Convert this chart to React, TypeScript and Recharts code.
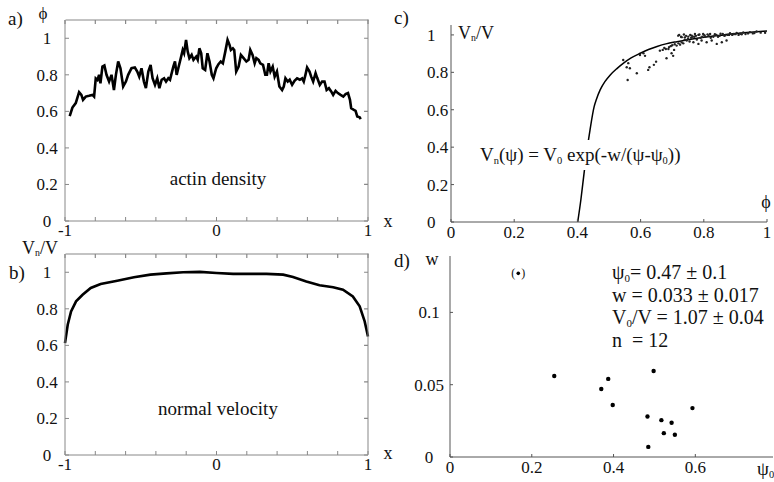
import React from "react";
import {
  LineChart,
  Line,
  XAxis,
  YAxis,
  ComposedChart,
  Scatter,
  ScatterChart,
} from "recharts";

const FONT = '"Liberation Serif", "Times New Roman", Tinos, "DejaVu Serif", serif';

// a) actin density along the edge
const actinX = [
  -0.969, -0.951, -0.929, -0.907, -0.892, -0.881, -0.863, -0.841, -0.819, -0.808,
  -0.797, -0.786, -0.775, -0.766, -0.753, -0.74, -0.726, -0.709, -0.693, -0.677,
  -0.664, -0.649, -0.634, -0.616, -0.598, -0.583, -0.561, -0.539, -0.523, -0.51,
  -0.495, -0.479, -0.466, -0.45, -0.435, -0.422, -0.406, -0.391, -0.377, -0.362,
  -0.346, -0.333, -0.318, -0.307, -0.285, -0.274, -0.263, -0.247, -0.236, -0.223,
  -0.214, -0.201, -0.19, -0.179, -0.164, -0.152, -0.134, -0.124, -0.113, -0.101,
  -0.091, -0.075, -0.06, -0.046, -0.031, -0.02, -0.002, 0.013, 0.028, 0.042,
  0.058, 0.073, 0.086, 0.095, 0.108, 0.117, 0.13, 0.146, 0.161, 0.179,
  0.197, 0.212, 0.223, 0.238, 0.252, 0.263, 0.278, 0.289, 0.307, 0.322,
  0.333, 0.344, 0.356, 0.371, 0.384, 0.399, 0.415, 0.433, 0.444, 0.455,
  0.47, 0.483, 0.499, 0.515, 0.532, 0.55, 0.565, 0.576, 0.587, 0.598,
  0.614, 0.625, 0.638, 0.654, 0.664, 0.682, 0.697, 0.713, 0.727, 0.742,
  0.757, 0.77, 0.786, 0.801, 0.819, 0.837, 0.852, 0.868, 0.881, 0.889,
  0.907, 0.918, 0.929, 0.945, 0.952,
];
const actinY = [
  0.574, 0.621, 0.645, 0.705, 0.69, 0.663, 0.681, 0.685, 0.69, 0.681,
  0.78, 0.772, 0.8, 0.754, 0.845, 0.851, 0.8, 0.763, 0.8, 0.717,
  0.8, 0.873, 0.836, 0.736, 0.763, 0.8, 0.836, 0.84, 0.818, 0.79,
  0.836, 0.763, 0.727, 0.818, 0.854, 0.781, 0.745, 0.781, 0.727, 0.773,
  0.781, 0.763, 0.781, 0.773, 0.845, 0.873, 0.8, 0.854, 0.891, 0.936,
  0.918, 0.991, 0.927, 0.891, 0.909, 0.882, 0.9, 0.882, 0.945, 0.918,
  0.836, 0.827, 0.918, 0.873, 0.8, 0.781, 0.836, 0.858, 0.873, 0.863,
  0.927, 0.991, 0.964, 0.936, 0.945, 0.936, 0.818, 0.845, 0.909, 0.891,
  0.873, 0.882, 0.936, 0.909, 0.863, 0.891, 0.882, 0.863, 0.854, 0.8,
  0.8, 0.863, 0.818, 0.845, 0.79, 0.818, 0.736, 0.717, 0.736, 0.781,
  0.763, 0.773, 0.745, 0.767, 0.781, 0.773, 0.781, 0.763, 0.8, 0.84,
  0.818, 0.79, 0.763, 0.809, 0.785, 0.745, 0.763, 0.763, 0.717, 0.727,
  0.709, 0.69, 0.712, 0.7, 0.69, 0.681, 0.694, 0.7, 0.663, 0.617,
  0.608, 0.603, 0.572, 0.567, 0.557,
];

// b) normal velocity
const velX = [
  -1, -0.982, -0.96, -0.927, -0.884, -0.83, -0.765, -0.655, -0.545, -0.436,
  -0.33, -0.22, -0.11, 0, 0.11, 0.22, 0.33, 0.44, 0.505, 0.593,
  0.68, 0.77, 0.835, 0.9, 0.945, 0.978, 1,
];
const velY = [
  0.612, 0.713, 0.786, 0.841, 0.877, 0.914, 0.936, 0.954, 0.973, 0.987,
  0.994, 1.0, 1.002, 0.996, 0.991, 0.991, 0.991, 0.987, 0.974, 0.95,
  0.929, 0.918, 0.905, 0.868, 0.814, 0.731, 0.649,
];

// c) normal velocity vs actin density
const cloudX = [
  0.545, 0.556, 0.561, 0.559, 0.566, 0.588, 0.598, 0.609, 0.614, 0.624,
  0.628, 0.642, 0.649, 0.661, 0.67, 0.675, 0.68, 0.682, 0.688, 0.69,
  0.695, 0.698, 0.7, 0.703, 0.706, 0.708, 0.714, 0.719, 0.72, 0.725,
  0.73, 0.73, 0.735, 0.74, 0.74, 0.746, 0.75, 0.751, 0.755, 0.76,
  0.762, 0.767, 0.77, 0.772, 0.778, 0.783, 0.783, 0.79, 0.793, 0.798,
  0.805, 0.809, 0.815, 0.82, 0.825, 0.83, 0.84, 0.841, 0.85, 0.857,
  0.86, 0.868, 0.872, 0.876, 0.883, 0.89, 0.895, 0.904, 0.91, 0.915,
  0.925, 0.932, 0.946, 0.955, 0.967, 0.994, 0.722, 0.728, 0.737, 0.744,
  0.757, 0.765, 0.775, 0.786, 0.795, 0.802, 0.812, 0.822, 0.835, 0.845,
  0.853, 0.865, 0.88, 0.9, 0.92, 0.94, 0.96, 0.98,
];
const cloudY = [
  0.866, 0.827, 0.849, 0.759, 0.822, 0.795, 0.893, 0.902, 0.888, 0.813,
  0.827, 0.84, 0.857, 0.916, 0.92, 0.93, 0.925, 0.875, 0.925, 0.935,
  0.94, 0.902, 0.945, 0.888, 0.92, 0.95, 0.943, 0.996, 0.955, 0.948,
  0.988, 0.96, 0.955, 0.987, 0.975, 0.97, 0.98, 0.991, 0.965, 0.985,
  0.996, 0.961, 0.99, 1.005, 0.975, 1.0, 0.952, 0.985, 0.97, 1.005,
  0.99, 0.961, 0.995, 1.005, 0.97, 0.99, 1.0, 0.952, 0.995, 0.961,
  1.005, 0.998, 0.97, 1.0, 1.009, 1.0, 1.005, 1.011, 1.0, 1.006,
  1.013, 1.005, 1.014, 1.008, 1.018, 1.011, 1.0, 0.99, 1.002, 0.995,
  1.0, 0.99, 0.995, 1.002, 0.99, 0.998, 1.003, 0.985, 1.004, 0.99,
  1.006, 0.995, 1.0, 1.004, 1.003, 1.008, 1.01, 1.012,
];
const fitX = [
  0.401, 0.411, 0.421, 0.43, 0.44, 0.453, 0.46, 0.472, 0.487, 0.504,
  0.525, 0.546, 0.57, 0.599, 0.625, 0.652, 0.68, 0.715, 0.745, 0.778,
  0.82, 0.863, 0.905, 0.947, 1.0,
];
const fitY = [
  0, 0.119, 0.26, 0.38, 0.493, 0.617, 0.655, 0.706, 0.75, 0.786,
  0.82, 0.849, 0.877, 0.902, 0.922, 0.938, 0.952, 0.964, 0.973, 0.982,
  0.992, 1.0, 1.008, 1.014, 1.021,
];

// d) fitted parameters per cell
const psiX = [0.255, 0.37, 0.387, 0.398, 0.483, 0.485, 0.498, 0.517, 0.523, 0.542, 0.55, 0.593];
const wY = [0.056, 0.047, 0.054, 0.036, 0.028, 0.007, 0.0595, 0.0255, 0.0165, 0.0237, 0.0154, 0.0338];
const outlierX = [0.167];
const outlierY = [0.127];

const abXTicks = [-1, -0.8, -0.6, -0.4, -0.2, 0, 0.2, 0.4, 0.6, 0.8, 1];
const unitTicks = [0, 0.2, 0.4, 0.6, 0.8, 1];
const dXTicks = [0, 0.2, 0.4, 0.6];
const dYTicks = [0, 0.05, 0.1];

const zip = (xs: number[], ys: number[]) => xs.map((x, i) => ({ x, y: ys[i] }));

const tickStyle = { fill: "#111", fontSize: 17, fontFamily: FONT };
const frame = "#888";
const axisDark = "#555";

const fmtY = (v: number) => (v === 0 ? "0" : v === 1 ? "1" : String(v));
const fmtEnds = (v: number) => (v === -1 ? "-1" : v === 0 ? "0" : v === 1 ? "1" : "");

// y tick labels sit in a column (chart-local x), not flush against the axis
const yTickAt = (cx: number, anchor: "middle" | "start") => (p: any) =>
  (
    <text
      x={cx}
      y={p.y}
      dy="0.35em"
      textAnchor={anchor}
      fontSize={17}
      fontFamily={FONT}
      fill="#111"
    >
      {fmtY(p.payload.value)}
    </text>
  );

function Sub({ children }: { children: React.ReactNode }) {
  return (
    <span style={{ fontSize: "0.55em", position: "relative", top: "0.25em" }}>{children}</span>
  );
}

function Label({
  x,
  y,
  size = 18,
  children,
  center = true,
}: {
  x: number;
  y: number;
  size?: number;
  children: React.ReactNode;
  center?: boolean;
}) {
  return (
    <div
      style={{
        position: "absolute",
        left: x,
        top: y,
        transform: center ? "translate(-50%, -50%)" : "translate(0, -50%)",
        fontFamily: FONT,
        fontSize: size,
        lineHeight: 1,
        whiteSpace: "nowrap",
        color: "#111",
      }}
    >
      {children}
    </div>
  );
}

const Y_TOP = 1.1;
// inward ticks on the top and right sides of the box
const boxTicks = [
  ...abXTicks.flatMap((t) => [
    { x: t, y: Y_TOP },
    { x: t, y: Y_TOP - 0.022 },
    { x: t, y: null },
  ]),
  ...unitTicks.flatMap((t) => [
    { x: 1, y: t },
    { x: 0.974, y: t },
    { x: 1, y: null },
  ]),
];

function FramedProfile({
  data,
  height,
  top,
  marginTop,
  xAxisHeight,
}: {
  data: { x: number; y: number }[];
  height: number;
  top: number;
  marginTop: number;
  xAxisHeight: number;
}) {
  const plotH = height - marginTop - xAxisHeight;
  return (
    <div style={{ position: "absolute", left: 0, top }}>
      <LineChart width={390} height={height} margin={{ top: marginTop, right: 22, bottom: 0, left: 0 }}>
        <XAxis
          dataKey="x"
          type="number"
          domain={[-1, 1]}
          ticks={abXTicks}
          tickFormatter={fmtEnds}
          height={xAxisHeight}
          tick={tickStyle}
          tickSize={-4}
          tickMargin={7}
          stroke={frame}
          interval={0}
        />
        <YAxis
          type="number"
          domain={[0, Y_TOP]}
          ticks={unitTicks}
          width={65}
          tick={yTickAt(47, "middle")}
          tickSize={-4}
          stroke={frame}
          interval={0}
        />
        <Line
          data={boxTicks}
          dataKey="y"
          type="linear"
          stroke={frame}
          strokeWidth={1.2}
          dot={false}
          activeDot={false}
          connectNulls={false}
          isAnimationActive={false}
        />
        <Line
          data={data}
          dataKey="y"
          type="linear"
          stroke="#000"
          strokeWidth={2.6}
          dot={false}
          isAnimationActive={false}
        />
      </LineChart>
      {/* top and right sides of the box */}
      <div
        style={{
          position: "absolute",
          left: 65,
          top: marginTop,
          width: 303,
          height: plotH,
          boxSizing: "border-box",
          borderTop: `1.5px solid ${frame}`,
          borderRight: `1.5px solid ${frame}`,
          pointerEvents: "none",
          transform: "translate(0.5px, -0.5px)",
        }}
      />
    </div>
  );
}

function CloudPanel() {
  return (
    <div style={{ position: "absolute", left: 390, top: 0 }}>
      <ComposedChart width={384} height={245} margin={{ top: 25, right: 7, bottom: 0, left: 0 }}>
        <XAxis
          dataKey="x"
          type="number"
          domain={[0, 1]}
          ticks={unitTicks}
          tickFormatter={fmtY}
          height={23}
          tick={tickStyle}
          tickSize={-3}
          tickMargin={7}
          stroke={axisDark}
          interval={0}
        />
        <YAxis
          dataKey="y"
          type="number"
          domain={[0, 1.053]}
          ticks={unitTicks}
          width={61}
          tick={yTickAt(37, "start")}
          tickSize={-3}
          stroke={axisDark}
          interval={0}
        />
        <Scatter
          data={zip(cloudX, cloudY)}
          dataKey="y"
          fill="#000"
          isAnimationActive={false}
          shape={(p: any) => <circle cx={p.cx} cy={p.cy} r={1.2} fill="#222" />}
        />
        <Line
          data={zip(fitX, fitY)}
          dataKey="y"
          type="monotone"
          stroke="#000"
          strokeWidth={1.5}
          dot={false}
          isAnimationActive={false}
        />
      </ComposedChart>
    </div>
  );
}

function ParamPanel() {
  return (
    <div style={{ position: "absolute", left: 390, top: 235 }}>
      <ScatterChart width={384} height={247} margin={{ top: 21, right: 1, bottom: 0, left: 0 }}>
        <XAxis
          dataKey="x"
          type="number"
          domain={[0, 0.79]}
          ticks={dXTicks}
          tickFormatter={fmtY}
          height={25}
          tick={tickStyle}
          tickSize={-3}
          tickMargin={7}
          stroke={axisDark}
          interval={0}
        />
        <YAxis
          dataKey="y"
          type="number"
          domain={[0, 0.139]}
          ticks={dYTicks}
          width={60}
          tick={yTickAt(39, "middle")}
          tickSize={-3}
          stroke={axisDark}
          interval={0}
        />
        <Scatter
          data={zip(psiX, wY)}
          isAnimationActive={false}
          shape={(p: any) => <circle cx={p.cx} cy={p.cy} r={2.2} fill="#000" />}
        />
        <Scatter
          data={zip(outlierX, outlierY)}
          isAnimationActive={false}
          shape={(p: any) => (
            <g>
              <circle cx={p.cx} cy={p.cy} r={1.8} fill="#000" />
              <text x={p.cx - 5} y={p.cy + 4} fontSize={12} fontFamily={FONT} textAnchor="middle" fill="#111">
                (
              </text>
              <text x={p.cx + 5} y={p.cy + 4} fontSize={12} fontFamily={FONT} textAnchor="middle" fill="#111">
                )
              </text>
            </g>
          )}
        />
      </ScatterChart>
    </div>
  );
}

const statRow = { height: 22.5, lineHeight: "22.5px" };

export default function App() {
  return (
    <div
      style={{
        position: "absolute",
        left: 0,
        top: 0,
        width: 774,
        height: 482,
        background: "#fff",
        overflow: "hidden",
      }}
    >
      <FramedProfile data={zip(actinX, actinY)} height={240} top={0} marginTop={20} xAxisHeight={19} />
      <FramedProfile data={zip(velX, velY)} height={247} top={235} marginTop={19} xAxisHeight={27} />
      <CloudPanel />
      <ParamPanel />

      {/* panel a */}
      <Label x={8} y={18} size={19} center={false}>a)</Label>
      <Label x={43} y={13} size={17}>ϕ</Label>
      <Label x={388} y={221} size={18}>x</Label>
      <Label x={218} y={178} size={19}>actin density</Label>

      {/* panel b */}
      <Label x={9} y={272} size={19} center={false}>b)</Label>
      <Label x={22} y={248} size={18} center={false}>
        V<Sub>n</Sub>/V
      </Label>
      <Label x={388} y={453} size={18}>x</Label>
      <Label x={218} y={408} size={19}>normal velocity</Label>

      {/* panel c */}
      <Label x={394} y={17} size={19} center={false}>c)</Label>
      <Label x={458} y={33} size={18} center={false}>
        V<Sub>n</Sub>/V
      </Label>
      <Label x={766} y={202} size={18}>ϕ</Label>
      <div
        style={{
          position: "absolute",
          left: 476,
          top: 140,
          padding: "3px 4px",
          background: "#fff",
          fontFamily: FONT,
          fontSize: 19,
          lineHeight: "24px",
          height: 24,
          whiteSpace: "nowrap",
          color: "#111",
        }}
      >
        V<Sub>n</Sub>(ψ) = V<Sub>0</Sub> exp(-w/(ψ-ψ<Sub>0</Sub>))
      </div>

      {/* panel d */}
      <Label x={394} y={260} size={19} center={false}>d)</Label>
      <Label x={432} y={259} size={18}>w</Label>
      <Label x={757} y={468} size={19} center={false}>
        ψ<Sub>0</Sub>
      </Label>
      <div
        style={{
          position: "absolute",
          left: 612,
          top: 261,
          fontFamily: FONT,
          fontSize: 20,
          whiteSpace: "nowrap",
          color: "#111",
        }}
      >
        <div style={statRow}>
          ψ<Sub>0</Sub>= 0.47 ± 0.1
        </div>
        <div style={statRow}>w = 0.033 ± 0.017</div>
        <div style={statRow}>
          V<Sub>0</Sub>/V = 1.07 ± 0.04
        </div>
        <div style={statRow}>n&nbsp; = 12</div>
      </div>
    </div>
  );
}
